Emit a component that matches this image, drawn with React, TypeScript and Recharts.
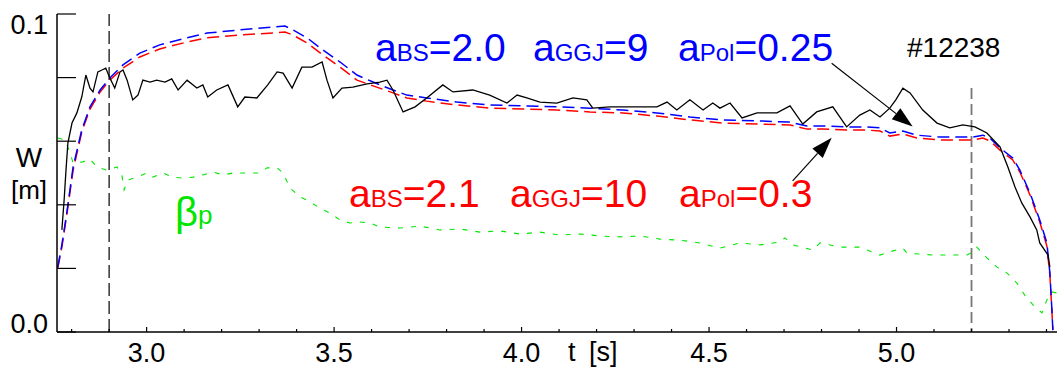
import { LineChart, Line, XAxis, YAxis, ReferenceLine } from "recharts";

// measured W [m] (black)
const measuredTime = [
  2.774, 2.78, 2.785, 2.79, 2.801, 2.814, 2.827, 2.838, 2.849, 2.857, 2.87, 2.881, 2.891, 2.902, 2.915,
  2.929, 2.937, 2.948, 2.963, 2.977, 2.99, 3.009, 3.027, 3.049, 3.067, 3.084, 3.108, 3.134, 3.15, 3.163,
  3.187, 3.217, 3.243, 3.262, 3.294, 3.323, 3.348, 3.364, 3.388, 3.414, 3.441, 3.468, 3.481, 3.497, 3.521,
  3.55, 3.588, 3.622, 3.641, 3.657, 3.684, 3.716, 3.747, 3.79, 3.817, 3.87, 3.915, 3.961, 3.988, 4.014,
  4.049, 4.094, 4.137, 4.174, 4.19, 4.236, 4.281, 4.316, 4.361, 4.388, 4.414, 4.449, 4.484, 4.51, 4.529,
  4.556, 4.588, 4.628, 4.681, 4.716, 4.75, 4.787, 4.83, 4.867, 4.902, 4.929, 4.956, 4.982, 4.998, 5.017,
  5.036, 5.07, 5.108, 5.142, 5.177, 5.209, 5.241, 5.276, 5.297, 5.316, 5.334, 5.356, 5.374, 5.382, 5.404,
  5.409,
];
const measuredW = [
  0.0321, 0.0415, 0.0509, 0.0594, 0.0657, 0.0689, 0.0739, 0.0808, 0.0767, 0.0755, 0.0818, 0.0824, 0.083,
  0.0799, 0.0767, 0.0818, 0.0824, 0.0792, 0.073, 0.0745, 0.0792, 0.0786, 0.0792, 0.0786, 0.0796, 0.0761,
  0.0792, 0.0767, 0.0777, 0.0739, 0.0761, 0.0777, 0.0708, 0.0739, 0.0736, 0.0777, 0.0818, 0.0814, 0.0767,
  0.0833, 0.0833, 0.0849, 0.0792, 0.0736, 0.0767, 0.077, 0.078, 0.0786, 0.0792, 0.0761, 0.0692, 0.0708,
  0.0736, 0.0777, 0.0755, 0.0761, 0.0745, 0.072, 0.0745, 0.0736, 0.0723, 0.072, 0.0736, 0.073, 0.0704,
  0.0708, 0.0708, 0.0708, 0.0708, 0.0723, 0.0698, 0.073, 0.0698, 0.072, 0.0704, 0.072, 0.0673, 0.0689,
  0.0689, 0.0711, 0.0654, 0.0692, 0.0708, 0.0645, 0.0682, 0.0698, 0.0676, 0.0704, 0.073, 0.0767, 0.0752,
  0.0698, 0.0657, 0.0642, 0.0651, 0.0645, 0.0626, 0.0582, 0.0519, 0.0456, 0.0406, 0.0362, 0.0321, 0.028,
  0.0242, 0.0204,
];

// simulated W, two parameter sets
const simTime = [
  2.763, 2.774, 2.787, 2.804, 2.827, 2.849, 2.876, 2.902, 2.937, 2.982, 3.035, 3.108, 3.161, 3.249, 3.337,
  3.369, 3.39, 3.428, 3.47, 3.516, 3.561, 3.604, 3.657, 3.694, 3.747, 3.827, 3.915, 4.004, 4.094, 4.182,
  4.27, 4.361, 4.449, 4.537, 4.628, 4.716, 4.761, 4.803, 4.867, 4.921, 4.956, 4.982, 5.017, 5.054, 5.115,
  5.204, 5.23, 5.249, 5.276, 5.31, 5.329, 5.356, 5.382, 5.401, 5.409, 5.414, 5.417,
];
const simBlueW = [
  0.0204, 0.0274, 0.0374, 0.0519, 0.0635, 0.0708, 0.0761, 0.0799, 0.084, 0.0877, 0.0903, 0.0925, 0.094,
  0.095, 0.0959, 0.0962, 0.095, 0.0925, 0.0887, 0.0849, 0.0808, 0.0786, 0.0761, 0.0745, 0.0736, 0.0723,
  0.0714, 0.0711, 0.0708, 0.0704, 0.0698, 0.0689, 0.0676, 0.0667, 0.0664, 0.066, 0.0648, 0.0648, 0.0645,
  0.0645, 0.0642, 0.0626, 0.0632, 0.0619, 0.0613, 0.0613, 0.0619, 0.061, 0.0579, 0.0547, 0.0509, 0.0437,
  0.0352, 0.028, 0.0186, 0.0079, 0.0006,
];
const simRedW = [
  0.0201, 0.0267, 0.0368, 0.0509, 0.0629, 0.0701, 0.0755, 0.0792, 0.083, 0.0865, 0.089, 0.0912, 0.0925,
  0.0934, 0.094, 0.0943, 0.0934, 0.0909, 0.0871, 0.0833, 0.0792, 0.0774, 0.0752, 0.0736, 0.0726, 0.0714,
  0.0704, 0.0701, 0.0698, 0.0692, 0.0689, 0.0679, 0.0667, 0.0657, 0.0654, 0.0651, 0.0638, 0.0638, 0.0635,
  0.0635, 0.0632, 0.0616, 0.0623, 0.061, 0.0604, 0.0604, 0.061, 0.0601, 0.0572, 0.0541, 0.0503, 0.0431,
  0.0346, 0.027, 0.0179, 0.0075, 0.0006,
];

// beta_p, drawn on the W scale (green)
const betaTime = [
  2.763, 2.782, 2.796, 2.804, 2.83, 2.849, 2.867, 2.894, 2.921, 2.934, 2.94, 2.95, 2.974, 3.001, 3.017,
  3.044, 3.07, 3.097, 3.124, 3.15, 3.177, 3.204, 3.23, 3.257, 3.283, 3.302, 3.321, 3.348, 3.364, 3.382,
  3.409, 3.436, 3.462, 3.489, 3.516, 3.542, 3.569, 3.596, 3.622, 3.676, 3.729, 3.782, 3.836, 3.889, 3.942,
  3.996, 4.049, 4.102, 4.156, 4.209, 4.262, 4.316, 4.369, 4.422, 4.476, 4.529, 4.582, 4.636, 4.689, 4.702,
  4.724, 4.777, 4.796, 4.849, 4.902, 4.956, 4.982, 5.017, 5.028, 5.097, 5.188, 5.204, 5.214, 5.241, 5.268,
  5.294, 5.321, 5.342, 5.364, 5.388, 5.401, 5.414, 5.427,
];
const betaP = [
  0.061, 0.0604, 0.0563, 0.0531, 0.0535, 0.0544, 0.0519, 0.0509, 0.0519, 0.0494, 0.0447, 0.0478, 0.0487,
  0.05, 0.0487, 0.05, 0.0487, 0.0484, 0.0487, 0.0494, 0.0503, 0.0494, 0.05, 0.05, 0.05, 0.05, 0.0516,
  0.0516, 0.05, 0.0453, 0.0425, 0.0409, 0.039, 0.0374, 0.0352, 0.0343, 0.0346, 0.0343, 0.033, 0.0327,
  0.0333, 0.0321, 0.0324, 0.0314, 0.0318, 0.0308, 0.0314, 0.0305, 0.0308, 0.0302, 0.0299, 0.0302, 0.0292,
  0.0289, 0.028, 0.0264, 0.028, 0.0274, 0.0283, 0.0296, 0.0274, 0.0258, 0.028, 0.0267, 0.0267, 0.0242,
  0.0252, 0.0264, 0.0248, 0.0242, 0.0242, 0.0252, 0.0267, 0.0233, 0.0204, 0.0186, 0.0154, 0.0116, 0.0085,
  0.006, 0.0101, 0.0126, 0.0123,
];

const xTicks = [
  2.8, 2.9, 3.0, 3.1, 3.2, 3.3, 3.4, 3.5, 3.6, 3.7, 3.8, 3.9, 4.0, 4.1, 4.2, 4.3, 4.4, 4.5, 4.6, 4.7, 4.8,
  4.9, 5.0, 5.1, 5.2, 5.3, 5.4,
];
const xLabels = ["3.0", "3.5", "4.0", "4.5", "5.0"];
const yTicks = [0, 0.02, 0.04, 0.06, 0.08, 0.1];

// arrows: [start t, start W, tip t, tip W]
const arrowTop = [4.827, 0.0845, 5.043, 0.0646];
const arrowBottom = [4.723, 0.0475, 4.827, 0.0611];

const FONT = "'Liberation Sans', Arial, Helvetica, sans-serif";
const BLUE = "#0000ff";
const RED = "#ff0000";
const GREEN = "#00e600";

const zip = (ts: number[], vs: number[]) => ts.map((t, i) => ({ t, v: vs[i] }));

function XTick(props: any) {
  const { x, y, payload } = props;
  const v: number = payload.value;
  const major = Math.abs(v * 2 - Math.round(v * 2)) < 1e-6;
  const label = v.toFixed(1);
  return (
    <g>
      <line x1={x} y1={y} x2={x} y2={y - (major ? 5 : 3)} stroke="#000" strokeWidth={1.2} />
      {major && xLabels.includes(label) && (
        <text x={x} y={y + 30} textAnchor="middle" fontSize={27} fontFamily={FONT} fill="#000">
          {label}
        </text>
      )}
    </g>
  );
}

function YTick(props: any) {
  const { x, y, payload } = props;
  const v: number = payload.value;
  return (
    <g>
      <line x1={x} y1={y} x2={x + 19} y2={y} stroke="#000" strokeWidth={1.2} />
      {v === 0.1 && (
        <text x={x - 9} y={y + 20} textAnchor="end" fontSize={27} fontFamily={FONT} fill="#000">
          0.1
        </text>
      )}
      {v === 0 && (
        <text x={x - 9} y={y + 1} textAnchor="end" fontSize={27} fontFamily={FONT} fill="#000">
          0.0
        </text>
      )}
    </g>
  );
}

function Arrow(props: any) {
  const { x1, y1, x2, y2 } = props;
  const dx = x2 - x1;
  const dy = y2 - y1;
  const len = Math.hypot(dx, dy);
  const ux = dx / len;
  const uy = dy / len;
  const bx = x2 - ux * 21;
  const by = y2 - uy * 21;
  const hw = 7;
  return (
    <g>
      <line x1={x1} y1={y1} x2={bx} y2={by} stroke="#000" strokeWidth={1.2} />
      <polygon
        points={`${x2},${y2} ${bx - uy * hw},${by + ux * hw} ${bx + uy * hw},${by - ux * hw}`}
        fill="#000"
      />
    </g>
  );
}

function Param({ x, y, color, sub, value }: { x: number; y: number; color: string; sub: string; value: string }) {
  return (
    <text x={x} y={y} fill={color} fontFamily={FONT} fontSize={39}>
      a<tspan fontSize={24}>{sub}</tspan>={value}
    </text>
  );
}

export default function App() {
  return (
    <div style={{ position: "absolute", left: 0, top: 0, width: 1057, height: 369, background: "#fff" }}>
      <LineChart width={1057} height={369} margin={{ top: 14, right: 0, bottom: 0, left: 0 }}>
        <XAxis
          type="number"
          dataKey="t"
          domain={[2.761, 5.428]}
          allowDataOverflow
          ticks={xTicks}
          interval={0}
          height={37}
          tickSize={0}
          tickMargin={0}
          tickLine={false}
          axisLine={{ stroke: "#000", strokeWidth: 1.5 }}
          tick={<XTick />}
        />
        <YAxis
          type="number"
          domain={[0, 0.1]}
          allowDataOverflow
          ticks={yTicks}
          interval={0}
          width={57}
          tickSize={0}
          tickMargin={0}
          tickLine={false}
          axisLine={{ stroke: "#000", strokeWidth: 1.5 }}
          tick={<YTick />}
        />
        <ReferenceLine x={2.9} stroke="#000" strokeWidth={1.2} strokeDasharray="13 5" />
        <ReferenceLine
          segment={[
            { x: 5.2, y: 0.0767 },
            { x: 5.2, y: 0 },
          ]}
          stroke="#777"
          strokeWidth={1.8}
          strokeDasharray="11 5"
        />
        <Line
          data={zip(betaTime, betaP)}
          dataKey="v"
          type="linear"
          stroke={GREEN}
          strokeWidth={1.1}
          strokeDasharray="5 8"
          dot={false}
          activeDot={false}
          isAnimationActive={false}
        />
        <Line
          data={zip(simTime, simRedW)}
          dataKey="v"
          type="linear"
          stroke={RED}
          strokeWidth={1.5}
          strokeDasharray="12 6"
          dot={false}
          activeDot={false}
          isAnimationActive={false}
        />
        <Line
          data={zip(simTime, simBlueW)}
          dataKey="v"
          type="linear"
          stroke={BLUE}
          strokeWidth={1.5}
          strokeDasharray="12 6"
          dot={false}
          activeDot={false}
          isAnimationActive={false}
        />
        <Line
          data={zip(measuredTime, measuredW)}
          dataKey="v"
          type="linear"
          stroke="#000"
          strokeWidth={1.3}
          dot={false}
          activeDot={false}
          isAnimationActive={false}
        />
        <ReferenceLine
          segment={[
            { x: arrowTop[0], y: arrowTop[1] },
            { x: arrowTop[2], y: arrowTop[3] },
          ]}
          shape={(p: any) => <Arrow {...p} />}
        />
        <ReferenceLine
          segment={[
            { x: arrowBottom[0], y: arrowBottom[1] },
            { x: arrowBottom[2], y: arrowBottom[3] },
          ]}
          shape={(p: any) => <Arrow {...p} />}
        />
      </LineChart>
      <svg
        width={1057}
        height={369}
        style={{ position: "absolute", left: 0, top: 0, pointerEvents: "none" }}
      >
        <text x={29} y={167} textAnchor="middle" fontSize={28} fontFamily={FONT} fill="#000">
          W
        </text>
        <text x={29} y={199} textAnchor="middle" fontSize={26} fontFamily={FONT} fill="#000">
          [m]
        </text>
        <text x={568} y={361} fontSize={27} fontFamily={FONT} fill="#000">
          t
        </text>
        <text x={589} y={361} fontSize={27} fontFamily={FONT} fill="#000">
          [s]
        </text>
        <text x={907} y={57} fontSize={28} fontFamily={FONT} fill="#000">
          #12238
        </text>
        <Param x={375} y={61} color={BLUE} sub="BS" value="2.0" />
        <Param x={533} y={61} color={BLUE} sub="GGJ" value="9" />
        <Param x={678} y={61} color={BLUE} sub="Pol" value="0.25" />
        <Param x={349} y={207} color={RED} sub="BS" value="2.1" />
        <Param x={510} y={207} color={RED} sub="GGJ" value="10" />
        <Param x={679} y={207} color={RED} sub="Pol" value="0.3" />
        <text x={175} y={226} fontSize={40} fontFamily={FONT} fill={GREEN}>
          β
        </text>
        <text x={198} y={224} fontSize={26} fontFamily={FONT} fill={GREEN}>
          p
        </text>
      </svg>
    </div>
  );
}
